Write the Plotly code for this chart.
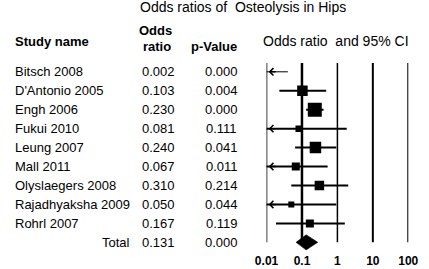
import numpy as np
import plotly.graph_objects as go

# ---- data ----
studies = ["Bitsch 2008", "D'Antonio 2005", "Engh 2006", "Fukui 2010", "Leung 2007",
           "Mall 2011", "Olyslaegers 2008", "Rajadhyaksha 2009", "Rohrl 2007"]
odds_ratio = [0.002, 0.103, 0.230, 0.081, 0.240, 0.067, 0.310, 0.050, 0.167]
p_values = [0.000, 0.004, 0.000, 0.111, 0.041, 0.011, 0.214, 0.044, 0.119]
ci_lower = [0.0001, 0.023, 0.131, 0.004, 0.064, 0.008, 0.050, 0.003, 0.0185]
ci_upper = [0.040, 0.48, 0.406, 1.83, 0.93, 0.53, 2.02, 0.93, 1.62]
weights = [2, 10.5, 14, 6.5, 11.5, 8, 9.5, 6, 8]   # relative study weight (box size)
total_label = "Total"
total_or = 0.131
total_p = 0.000
total_lower = 0.068
total_upper = 0.28
tick_vals = [0.01, 0.1, 1, 10, 100]
tick_text = ["0.01", "0.1", "1", "10", "100"]

# ---- layout geometry ----
W, H, B = 429, 269, 17
PH = H - B                  # plot-area height in px
ROW0, ROWH = 71.8, 18.95    # pixel y of first row, row spacing
FONT = "Liberation Sans, Arial, sans-serif"
n = len(studies)
total_row = n

def px(x):  # pixel x -> paper
    return x / W

def py(y):  # pixel y -> paper
    return (PH - y) / PH

fig = go.Figure()

# reference vertical lines
ref_widths = [1.5, 2.5, 1.5, 2, 2]
for v, w in zip(tick_vals, ref_widths):
    fig.add_trace(go.Scatter(x=[v, v], y=[-0.46, total_row], mode="lines",
                             line=dict(color="black", width=w), hoverinfo="skip"))

# CI lines
for i in range(n):
    fig.add_trace(go.Scatter(x=[ci_lower[i], ci_upper[i]], y=[i, i], mode="lines",
                             line=dict(color="black", width=1 if i == 0 else 2),
                             hoverinfo="skip"))

# boxes
fig.add_trace(go.Scatter(x=odds_ratio, y=list(range(n)), mode="markers",
                         marker=dict(symbol="square", color="black", size=weights,
                                     opacity=1, line=dict(width=0)),
                         hoverinfo="skip"))

# total diamond
dh = 0.4
fig.add_trace(go.Scatter(x=[total_lower, total_or, total_upper, total_or, total_lower],
                         y=[total_row, total_row - dh, total_row, total_row + dh, total_row],
                         mode="lines", fill="toself", fillcolor="black",
                         line=dict(color="black", width=0.5), hoverinfo="skip"))

ann = []
# arrows for CIs running off the left edge
lo_edge = np.log10(tick_vals[0])
for i in range(n):
    if ci_lower[i] < tick_vals[0]:
        ann.append(dict(x=lo_edge + 0.06, y=i, ax=lo_edge + 0.3, ay=i,
                        xref="x", yref="y", axref="x", ayref="y",
                        text="", showarrow=True, arrowhead=4, arrowsize=1,
                        arrowwidth=1.4, arrowcolor="black"))

# table text
for i in range(n):
    ann.append(dict(x=px(1.5), y=i, xref="paper", yref="y", text=studies[i],
                    xanchor="left", yanchor="middle", showarrow=False,
                    font=dict(size=13, family=FONT, color="black")))
    ann.append(dict(x=px(154.7), y=i, xref="paper", yref="y", text=f"{odds_ratio[i]:.3f}",
                    xanchor="center", yanchor="middle", showarrow=False,
                    font=dict(size=13, family=FONT, color="black")))
    ann.append(dict(x=px(221), y=i, xref="paper", yref="y", text=f"{p_values[i]:.3f}",
                    xanchor="center", yanchor="middle", showarrow=False,
                    font=dict(size=13, family=FONT, color="black")))
ann.append(dict(x=px(126.5), y=total_row, xref="paper", yref="y", text=total_label,
                xanchor="right", yanchor="middle", showarrow=False,
                font=dict(size=13, family=FONT, color="black")))
ann.append(dict(x=px(154.7), y=total_row, xref="paper", yref="y", text=f"{total_or:.3f}",
                xanchor="center", yanchor="middle", showarrow=False,
                font=dict(size=13, family=FONT, color="black")))
ann.append(dict(x=px(221), y=total_row, xref="paper", yref="y", text=f"{total_p:.3f}",
                xanchor="center", yanchor="middle", showarrow=False,
                font=dict(size=13, family=FONT, color="black")))

# headers
def header(x, y, text, size=13, anchor="center"):
    ann.append(dict(x=px(x), y=py(y), xref="paper", yref="paper", text=text,
                    xanchor=anchor, yanchor="middle", showarrow=False,
                    font=dict(size=size, family=FONT, color="black")))

header(244, 7, "Odds ratios of&nbsp; Osteolysis in Hips", size=14)
header(1.5, 42, "<b>Study name</b>", anchor="left")
header(151, 30.5, "<b>Odds</b>")
header(152.5, 46.5, "<b>ratio</b>")
header(213, 46.5, "<b>p-Value</b>")
header(342, 41.5, "Odds ratio&nbsp; and 95% CI", size=14)

fig.update_layout(
    width=W, height=H,
    margin=dict(l=0, r=0, t=0, b=B, pad=0),
    paper_bgcolor="white", plot_bgcolor="white",
    showlegend=False,
    annotations=ann,
    xaxis=dict(type="log", range=[-2, 2], domain=[px(268.3), px(417.7)],
               tickvals=tick_vals, ticktext=[f"<b>{t}</b>" for t in tick_text],
               tickfont=dict(size=12, family=FONT, color="black"),
               showgrid=False, zeroline=False, showline=False, ticks="",
               fixedrange=True),
    yaxis=dict(range=[(PH - ROW0) / ROWH, -ROW0 / ROWH], visible=False,
               showgrid=False, zeroline=False, fixedrange=True),
)

fig.write_html("out.html",
               config={"displayModeBar": False},
               post_script="document.body.style.margin='0px';")
